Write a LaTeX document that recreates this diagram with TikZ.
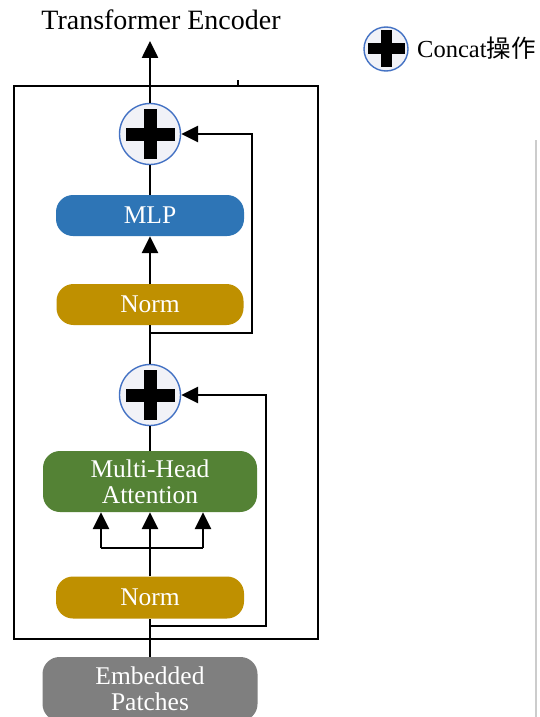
\documentclass[tikz,border=0pt]{standalone}
\usepackage{fontspec}
\setmainfont{Liberation Serif}
\newfontfamily\cjk{Noto Sans CJK SC}
\usetikzlibrary{arrows.meta}
\definecolor{cblue}{HTML}{4472C4}
\definecolor{cfill}{HTML}{F1F2F7}
\definecolor{mlpc}{HTML}{2E75B6}
\definecolor{normc}{HTML}{BF9000}
\definecolor{mhac}{HTML}{548235}
\definecolor{embc}{HTML}{7F7F7F}
\tikzset{
  conn/.style={line width=2.6pt, draw=black},
  arr/.style={conn, -{Triangle[width=16pt,length=17pt]}},
  blk/.style={rounded corners=17pt, text=white, inner sep=0pt, align=center,
    font=\fontsize{25.5}{27}\selectfont},
  plusbig/.style={circle, draw=cblue, line width=1.4pt, fill=cfill, minimum size=61pt, inner sep=0pt,
    path picture={
      \fill[black] ([xshift=-24.5pt,yshift=-6.5pt]path picture bounding box.center) rectangle ++(49pt,13pt);
      \fill[black] ([xshift=-6.5pt,yshift=-25pt]path picture bounding box.center) rectangle ++(13pt,50pt);
    }},
  plussmall/.style={circle, draw=cblue, line width=1.4pt, fill=cfill, minimum size=44pt, inner sep=0pt,
    path picture={
      \fill[black] ([xshift=-18.5pt,yshift=-5.5pt]path picture bounding box.center) rectangle ++(37pt,11pt);
      \fill[black] ([xshift=-5.5pt,yshift=-18.5pt]path picture bounding box.center) rectangle ++(11pt,37pt);
    }},
}
\begin{document}
\begin{tikzpicture}[x=1pt,y=-1pt]
\clip (0,0) rectangle (540,717);
\fill[white] (0,0) rectangle (540,717);
% faint crop line on the right
\draw[line width=1.5pt, draw=black!20] (536,140) -- (536,717);

% outer encoder frame
\draw[line width=2.6pt] (14,86) rectangle (318,639);
\draw[line width=2pt] (238,80) -- (238,86);

% title
\node[anchor=base, inner sep=0pt, font=\fontsize{28}{30}\selectfont] (title) at (161,30) {Transformer Encoder};
\coordinate (top) at (150,41);

% blocks
\node[plusbig] (c1) at (150,134) {};
\node[blk, fill=mlpc, minimum width=188pt, minimum height=41pt] (mlp) at (150,215.5) {MLP};
\node[blk, fill=normc, minimum width=187pt, minimum height=41pt] (norm1) at (150,304.5) {Norm};
\node[plusbig] (c2) at (150,395) {};
\node[blk, fill=mhac, minimum width=214pt, minimum height=61pt] (mha) at (150,481.5) {Multi-Head\\[-1pt]Attention};
\node[blk, fill=normc, minimum width=188pt, minimum height=42pt] (norm2) at (150,597.5) {Norm};
\node[blk, fill=embc, minimum width=215pt, minimum height=64pt] (emb) at (150,689) {Embedded\\[-1pt]Patches};

% junction coordinates
\coordinate (j1) at (150,333);
\coordinate (r1a) at (252,333);
\coordinate (r1b) at (252,134);
\coordinate (j2) at (150,626);
\coordinate (r2a) at (266,626);
\coordinate (r2b) at (266,395);
\coordinate (s) at (150,548);
\coordinate (sl) at (101,548);
\coordinate (sr) at (203,548);

% connectors
\draw[arr] (c1.north) -- (top);
\draw[conn] (mlp.north) -- (c1.south);
\draw[arr] (norm1.north) -- (mlp.south);
\draw[conn] (norm1.south) -- (c2.north);
\draw[arr] (j1) -- (r1a) -- (r1b) -- (c1.east);
\draw[conn] (mha.north) -- (c2.south);
\draw[conn] (norm2.north) -- (s);
\draw[conn] (sl) -- (sr);
\draw[arr] (sl) -- (sl |- mha.south);
\draw[arr] (s) -- (s |- mha.south);
\draw[arr] (sr) -- (sr |- mha.south);
\draw[conn] (emb.north) -- (norm2.south);
\draw[arr] (j2) -- (r2a) -- (r2b) -- (c2.east);

% legend
\node[plussmall] (lc) at (386,49) {};
\node[anchor=base west, inner sep=0pt, font=\fontsize{24.5}{28}\selectfont] (lt) at (417,57) {Concat{\cjk 操作}};
\end{tikzpicture}
\end{document}
